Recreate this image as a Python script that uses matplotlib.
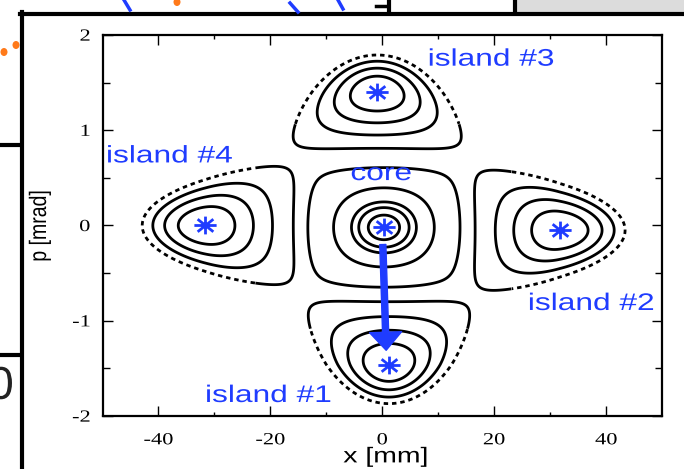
import numpy as np
import matplotlib
matplotlib.use("Agg")
import matplotlib.pyplot as plt
from matplotlib.font_manager import FontProperties
from matplotlib.lines import Line2D
from matplotlib.patches import FancyArrowPatch, PathPatch, Rectangle, Ellipse
from matplotlib.path import Path
from matplotlib.textpath import TextPath
from matplotlib.transforms import Affine2D, IdentityTransform, ScaledTranslation

W, H = 684, 469
BLUE = "#1f3cff"
STRETCH = 1.32  # the slide was scaled wider than tall, text included

# core orbits: where each one cuts p = 0 (mm)
core_orbit_x = np.array([2.8, 4.5, 5.8, 9.0, 13.6])
core_centre = (0.3, -0.02)

# stable islands of the fourth-order resonance
island_names = ["island #1", "island #2", "island #3", "island #4"]
island_side = ["bottom", "right", "top", "left"]
island_x = np.array([1.2, 31.8, -0.9, -31.6])   # mm
island_p = np.array([-1.46, -0.05, 1.40, 0.0])  # mrad
# reach of the last closed orbit from the fixed point: towards the core, out to the tip, across
island_reach_in = np.array([0.66, 15.2, 0.59, 15.7])
island_reach_out = np.array([0.41, 11.6, 0.39, 11.3])
island_reach_across = np.array([14.4, 0.63, 15.0, 0.62])
# island #2 orbits: distance from the fixed point towards the core (mm)
island_orbit_gap = np.array([5.1, 8.3, 11.6, 15.2])

label_x = [-31.3, 26.4, 8.5, -49.0]
label_p = [-1.853, -0.887, 1.678, 0.662]
core_label_xy = (-5.45, 0.477)

# core -> island #1 transfer
arrow_start = (0.1, -0.2)
arrow_end = (0.7, -1.31)

x_ticks = [-40, -20, 0, 20, 40]
x_minor = [-30, -10, 10, 30]
p_ticks = [-2, -1, 0, 1, 2]
p_minor = [-1.5, -0.5, 0.5, 1.5]


def resonance_h(X, P):
    """Normal form of a fourth-order resonance: stable centre, islands on the axes."""
    return -(X**2 + P**2) / 2 + (X**4 + 6 * X**2 * P**2 + P**4) / 4


def stretched_text(fig, s, x, y, size, trans, family="Liberation Sans", color="k",
                   ha="left", va="baseline", rotation=0, stretch=STRETCH, offset=(0, 0)):
    """Text drawn as a path so it can be widened like the rest of the slide."""
    path = TextPath((0, 0), s, size=size, prop=FontProperties(family=family))
    ext = path.get_extents()
    dx = {"left": -ext.x0, "center": -(ext.x0 + ext.x1) / 2, "right": -ext.x1}[ha]
    dy = {"baseline": 0.0, "center": -(ext.y0 + ext.y1) / 2, "top": -ext.y1}[va]
    tr = (Affine2D().translate(dx, dy).rotate_deg(rotation).scale(stretch, 1)
          .translate(*offset) + ScaledTranslation(x, y, trans))
    fig.add_artist(PathPatch(path, transform=tr, facecolor=color, edgecolor="none"))


# model orbit levels, scaled so the last island orbit sits just inside the separatrix
EDGE = 0.44
island_levels = resonance_h(1 - island_orbit_gap / island_orbit_gap[-1] * EDGE, 0)
root = np.sqrt(1 + 4 * island_levels[-1])
edge_out = np.sqrt(1 + root) - 1
Xn, Pn = np.meshgrid(np.linspace(0.3, 1.5, 600), np.linspace(0, 0.8, 400))
edge_across = Pn[(resonance_h(Xn, Pn) < island_levels[-1]) & (Pn < Xn)].max()

CORE_SX, CORE_SP = 26.0, 1.2
core_levels = np.sort(resonance_h(core_orbit_x / CORE_SX, 0))

xg, pg = np.meshgrid(np.linspace(-50, 50, 1201), np.linspace(-2, 2, 961))

fig = plt.figure(figsize=(W / 100, H / 100), dpi=100)
ax = fig.add_axes([102.5 / W, (H - 416) / H, (662 - 102.5) / W, (416 - 35) / H])

# core
Xc, Pc = (xg - core_centre[0]) / CORE_SX, (pg - core_centre[1]) / CORE_SP
core_field = np.ma.masked_where(np.hypot(Xc, Pc) > 0.7, resonance_h(Xc, Pc))
ax.contour(xg, pg, core_field, levels=core_levels, colors="k",
           linewidths=2.0, linestyles="solid")

# islands: solid orbits, last orbit turns into scattered dots towards the tip
for k in range(4):
    side = island_side[k]
    sign = 1 if side in ("right", "top") else -1
    if side in ("left", "right"):
        rho, across = sign * (xg - island_x[k]), pg - island_p[k]
    else:
        rho, across = sign * (pg - island_p[k]), xg - island_x[k]
    rad = 1 + np.where(rho < 0, rho * EDGE / island_reach_in[k],
                       rho * edge_out / island_reach_out[k])
    acr = across * edge_across / island_reach_across[k]
    h = resonance_h(rad, acr)
    other = np.abs(acr) > rad
    ax.contour(xg, pg, np.ma.masked_where(other, h), levels=island_levels[:-1],
               colors="k", linewidths=2.0, linestyles="solid")
    ax.contour(xg, pg, np.ma.masked_where(other | (rad > 0.75), h),
               levels=island_levels[-1:], colors="k", linewidths=2.0, linestyles="solid")
    ax.contour(xg, pg, np.ma.masked_where(other | (rad <= 0.75), h),
               levels=island_levels[-1:], colors="k", linewidths=2.0,
               linestyles=[(0, (1.6, 1.4))])

# fixed points
ang = np.deg2rad([0, 45, 90, 135])
verts = []
for a in ang:
    verts += [(-1.25 * np.cos(a), -np.sin(a)), (1.25 * np.cos(a), np.sin(a))]
asterisk = Path(verts, [Path.MOVETO, Path.LINETO] * 4)
ax.plot(list(island_x) + [core_centre[0]], list(island_p) + [core_centre[1]],
        ls="none", marker=asterisk, ms=16, mew=2.0, mfc="none", color=BLUE, zorder=4)

ax.add_patch(FancyArrowPatch(arrow_start, arrow_end, shrinkA=0, shrinkB=0,
                             arrowstyle="simple,head_width=1.15,head_length=0.65,tail_width=0.22",
                             mutation_scale=20, color=BLUE, zorder=5))

ax.set_xlim(-50, 50)
ax.set_ylim(-2, 2)
ax.set_xticks(x_ticks)
ax.set_xticks(x_minor, minor=True)
ax.set_yticks(p_ticks)
ax.set_yticks(p_minor, minor=True)
ax.tick_params(which="both", direction="in", top=True, right=True,
               labelbottom=False, labelleft=False, width=1.0)
ax.tick_params(which="major", length=7)
ax.tick_params(axis="x", which="minor", length=3)
ax.tick_params(axis="y", which="minor", length=5)
for sp in ax.spines.values():
    sp.set_linewidth(1.6)

for t in x_ticks:
    stretched_text(fig, str(t), t, -2, 17, ax.transData, family="Liberation Serif",
                   ha="center", va="top", offset=(0, -17))
for t in p_ticks:
    stretched_text(fig, str(t), -50, t, 17, ax.transData, family="Liberation Serif",
                   ha="right", va="center", offset=(-13, 0))
stretched_text(fig, "x [mm]", 385, H - 462.4, 21.5, IdentityTransform(), ha="center")
stretched_text(fig, "p [mrad]", 46, H - 226, 19.5, IdentityTransform(),
               ha="center", rotation=90, stretch=1.22)

for name, lx, lp in zip(island_names, label_x, label_p):
    stretched_text(fig, name, lx, lp, 24, ax.transData, color=BLUE)
stretched_text(fig, "core", core_label_xy[0], core_label_xy[1], 24, ax.transData, color=BLUE)

# surrounding slide: frame of the inset and bits of the neighbouring panels
px = IdentityTransform()
fig.add_artist(Line2D([22, 22], [0, H - 12], lw=3, color="k", transform=px))
fig.add_artist(Line2D([20, W], [H - 14, H - 14], lw=3, color="k", transform=px))
fig.add_artist(Rectangle((517, H - 12), W - 517, 12, facecolor="#dcdcdc",
                         edgecolor="none", transform=px))
fig.add_artist(Line2D([515, 515], [H - 13, H], lw=3, color="k", transform=px))
fig.add_artist(Line2D([389, 389], [H - 13, H], lw=3, color="k", transform=px))
fig.add_artist(Line2D([376, 386], [H - 6, H - 6], lw=2.5, color="k", transform=px))
fig.add_artist(Line2D([0, 20], [H - 145, H - 145], lw=3, color="k", transform=px))
fig.add_artist(Line2D([0, 20], [H - 355, H - 355], lw=3, color="k", transform=px))
stretched_text(fig, "0", 1, H - 383, 46, px, color="#222222", ha="center", va="center",
               stretch=1.0)
for cx, cy in [(4, H - 52), (16, H - 45), (177, H - 2)]:
    fig.add_artist(Ellipse((cx, cy), 7, 8, facecolor="#ff7a1a", edgecolor="none",
                           transform=px))
for x0, x1, y0, y1 in [(124, 130, H, H - 10), (290, 298, H - 3, H - 12), (338, 343, H, H - 9)]:
    fig.add_artist(Line2D([x0, x1], [y0, y1], lw=2.5, color=BLUE, transform=px))

fig.savefig("out.png", dpi=100)
